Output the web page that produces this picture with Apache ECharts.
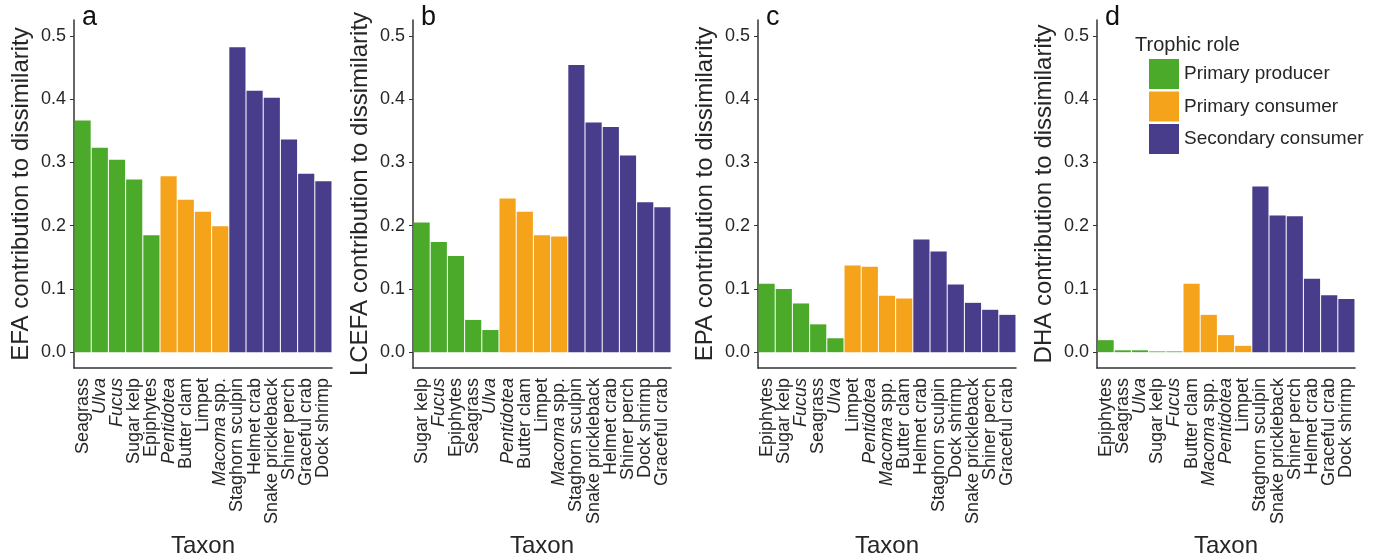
<!DOCTYPE html>
<html><head><meta charset="utf-8">
<script src="https://cdn.jsdelivr.net/npm/echarts@6/dist/echarts.min.js"></script>
<style>html,body{margin:0;padding:0;background:#fff}#c{width:1381px;height:560px}</style>
</head><body><div id="c"></div>
<script>
// ---- data ----
const taxaA = ['Seagrass','Ulva','Fucus','Sugar kelp','Epiphytes','Pentidotea','Butter clam','Limpet','Macoma spp.','Staghorn sculpin','Helmet crab','Snake prickleback','Shiner perch','Graceful crab','Dock shrimp'];
const valsA = [0.366,0.323,0.304,0.273,0.185,0.278,0.241,0.222,0.199,0.482,0.413,0.402,0.336,0.282,0.270];
const taxaB = ['Sugar kelp','Fucus','Epiphytes','Seagrass','Ulva','Pentidotea','Butter clam','Limpet','Macoma spp.','Staghorn sculpin','Snake prickleback','Helmet crab','Shiner perch','Dock shrimp','Graceful crab'];
const valsB = [0.205,0.174,0.152,0.051,0.035,0.243,0.222,0.185,0.183,0.454,0.363,0.356,0.311,0.237,0.229];
const taxaC = ['Epiphytes','Sugar kelp','Fucus','Seagrass','Ulva','Limpet','Pentidotea','Macoma spp.','Butter clam','Helmet crab','Staghorn sculpin','Dock shrimp','Snake prickleback','Shiner perch','Graceful crab'];
const valsC = [0.108,0.100,0.077,0.044,0.022,0.137,0.135,0.089,0.085,0.178,0.159,0.107,0.078,0.067,0.059];
const taxaD = ['Epiphytes','Seagrass','Ulva','Sugar kelp','Fucus','Butter clam','Macoma spp.','Pentidotea','Limpet','Staghorn sculpin','Snake prickleback','Shiner perch','Helmet crab','Graceful crab','Dock shrimp'];
const valsD = [0.019,0.003,0.003,0.0012,0.0012,0.108,0.059,0.027,0.010,0.262,0.216,0.215,0.116,0.090,0.084];

const producers = ['Seagrass','Ulva','Fucus','Sugar kelp','Epiphytes'];
const primaryConsumers = ['Pentidotea','Butter clam','Limpet','Macoma spp.'];
const secondaryConsumers = ['Staghorn sculpin','Helmet crab','Snake prickleback','Shiner perch','Graceful crab','Dock shrimp'];
const roleNames = ['Primary producer','Primary consumer','Secondary consumer'];
const italicTaxa = ['Ulva','Fucus','Pentidotea','Macoma'];

const yTicks = [0,0.1,0.2,0.3,0.4,0.5];
const panelLetters = ['a','b','c','d'];
const yTitles = ['EFA contribution to dissimilarity','LCEFA contribution to dissimilarity','EPA contribution to dissimilarity','DHA contribution to dissimilarity'];
const xTitle = 'Taxon';
const legendTitle = 'Trophic role';

// ---- styling / layout ----
const roleColors = ['#4BAA2A','#F4A31B','#483D8B'];
const FONT = '"Liberation Sans", Arial, Helvetica, sans-serif';
const TXT = '#262626';
const gridLefts = [74, 413, 758, 1097];
const gridW = 258;
const panels = [[taxaA,valsA],[taxaB,valsB],[taxaC,valsC],[taxaD,valsD]];
const roleLists = [producers, primaryConsumers, secondaryConsumers];

function fmtLabel(name){
  if (name === 'Macoma spp.') return '{i|Macoma} spp.';
  if (italicTaxa.indexOf(name) >= 0) return '{i|' + name + '}';
  return name;
}

const grid=[], xAxis=[], yAxis=[], series=[], graphic=[];
panels.forEach(([taxa, vals], p) => {
  grid.push({left: gridLefts[p], top: 20, width: gridW, height: 348, containLabel:false, outerBoundsMode:'none'});
  xAxis.push({
    type:'category', gridIndex:p, data:taxa, position:'bottom',
    boundaryGap:true,
    name: xTitle, nameLocation:'middle', nameGap:166,
    nameTextStyle:{fontSize:24, color:TXT, fontFamily:FONT},
    axisLine:{onZero:false, lineStyle:{color:'#333', width:1.5}},
    axisTick:{alignWithLabel:true, length:5, lineStyle:{color:'#333', width:1}},
    axisLabel:{interval:0, rotate:90, margin:10, fontSize:18, color:TXT, fontFamily:FONT,
      formatter: fmtLabel,
      rich:{i:{fontStyle:'italic', fontSize:18, color:TXT, fontFamily:FONT}}},
    splitLine:{show:false}
  });
  yAxis.push({
    type:'value', gridIndex:p, min:-0.025, max:0.525,
    name: yTitles[p], nameLocation:'middle', nameGap:41, nameRotate:90,
    nameTextStyle:{fontSize:24, color:TXT, fontFamily:FONT},
    axisLine:{show:true, lineStyle:{color:'#333', width:1.5}},
    axisTick:{show:true, length:4, customValues:yTicks, lineStyle:{color:'#333', width:1}},
    axisLabel:{customValues:yTicks, margin:8, fontSize:18, color:TXT, fontFamily:FONT,
      formatter: v => v.toFixed(1)},
    splitLine:{show:false}
  });
  roleNames.forEach((rn, r) => {
    series.push({
      type:'bar', name: rn, xAxisIndex:p, yAxisIndex:p, stack:'s'+p,
      barWidth:'94%',
      itemStyle:{color: roleColors[r], borderWidth:0},
      data: taxa.map((t,i) => roleLists[r].indexOf(t) >= 0 ? vals[i] : '-'),
      emphasis:{disabled:true}
    });
  });
  graphic.push({type:'text', left: gridLefts[p] + 8, top: 4,
    style:{text: panelLetters[p], fontSize:27, fill:'#111', fontFamily:FONT}});
});
graphic.push({type:'text', left:1135, top:35,
  style:{text: legendTitle, fontSize:20, fill:TXT, fontFamily:FONT}});

const chart = echarts.init(document.getElementById('c'), null, {renderer:'canvas'});
chart.setOption({
  animation:false,
  backgroundColor:'#fff',
  grid, xAxis, yAxis, series, graphic,
  legend:{data: roleNames, orient:'vertical', left:1149, top:59, padding:0,
    itemWidth:30, itemHeight:30, itemGap:2.5, icon:'rect',
    textStyle:{fontSize:19, color:TXT, fontFamily:FONT},
    itemStyle:{borderWidth:0}, selectedMode:false}
});
</script></body></html>
